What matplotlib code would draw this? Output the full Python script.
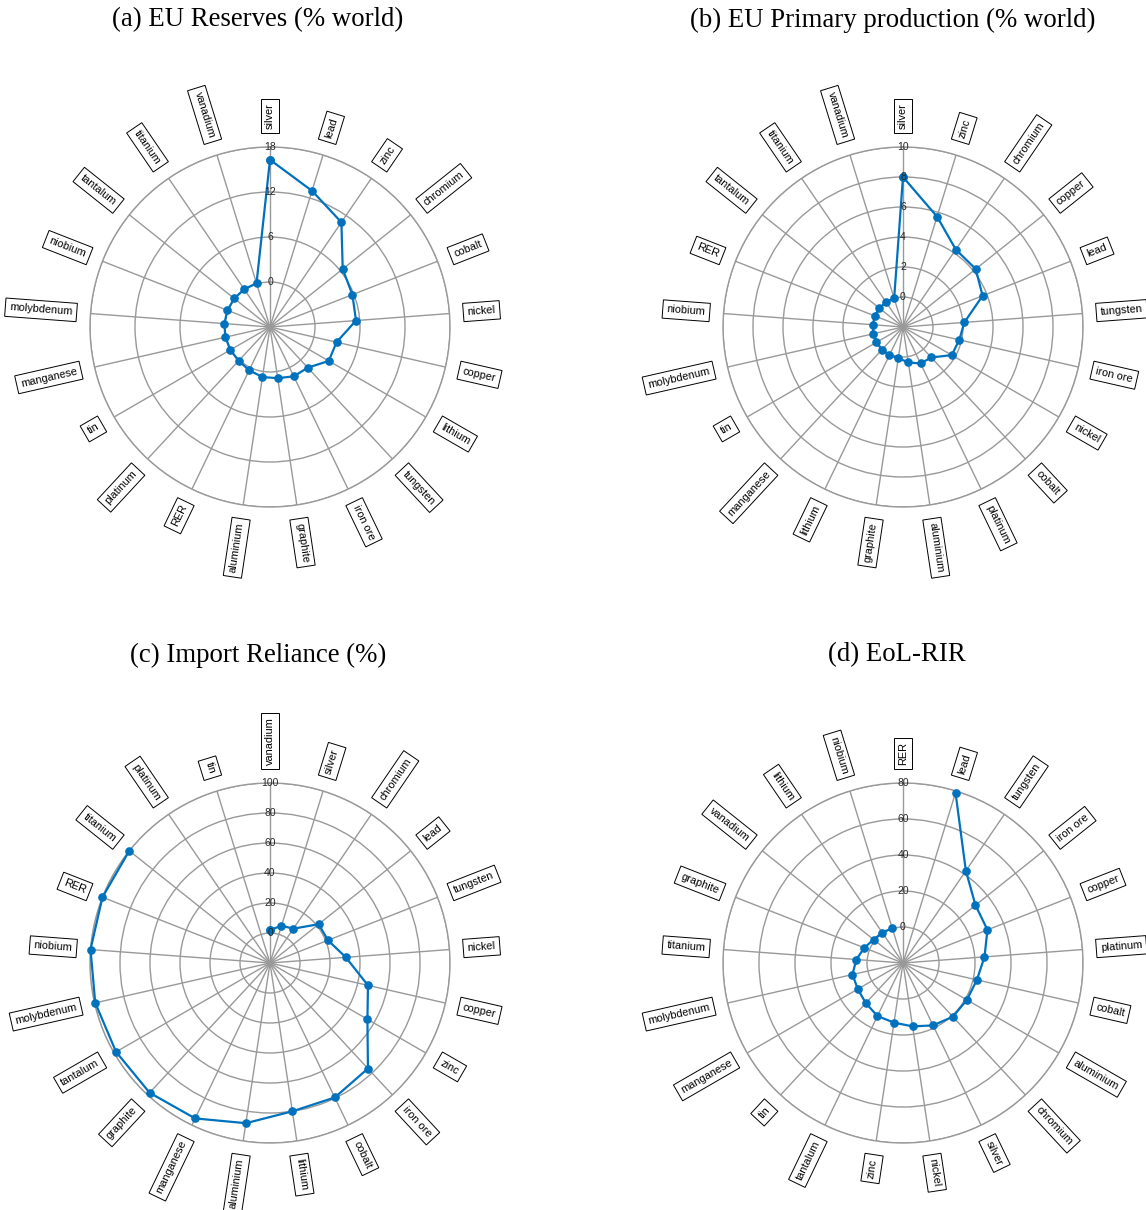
import numpy as np
import matplotlib
matplotlib.use("Agg")
import matplotlib.pyplot as plt

# ---- data -------------------------------------------------------------
names_a = ['silver', 'lead', 'zinc', 'chromium', 'cobalt', 'nickel', 'copper',
           'lithium', 'tungsten', 'iron ore', 'graphite', 'aluminium', 'RER',
           'platinum', 'tin', 'manganese', 'molybdenum', 'niobium', 'tantalum',
           'titanium', 'vanadium']
vals_a = [16.3, 13.0, 10.9, 6.4, 5.8, 5.5, 3.1, 3.05, 1.4, 1.3, 0.9, 0.75, 0.4,
          0.15, 0.12, 0.1, 0.1, 0.1, 0.1, 0.1, 0.1]

names_b = ['silver', 'zinc', 'chromium', 'copper', 'lead', 'tungsten', 'iron ore',
           'nickel', 'cobalt', 'platinum', 'aluminium', 'graphite', 'lithium',
           'manganese', 'tin', 'molybdenum', 'niobium', 'RER', 'tantalum',
           'titanium', 'vanadium']
vals_b = [8.0, 5.7, 4.25, 4.2, 3.7, 2.1, 1.85, 1.75, 0.77, 0.7, 0.39, 0.1, 0.08,
          0.06, 0.05, 0.03, 0.02, 0.02, 0.01, 0.01, 0.0]

names_c = ['vanadium', 'silver', 'chromium', 'lead', 'tungsten', 'nickel', 'copper',
           'zinc', 'iron ore', 'cobalt', 'lithium', 'aluminium', 'manganese',
           'graphite', 'tantalum', 'molybdenum', 'niobium', 'RER', 'titanium',
           'platinum', 'tin']
vals_c = [2.0, 6.0, 7.7, 21.5, 21.5, 30.7, 47.0, 55.0, 76.0, 79.5, 80.0, 88.0,
          95.0, 98.0, 98.5, 99.5, 100.0, 100.0, 100.0, np.nan, np.nan]

names_d = ['RER', 'lead', 'tungsten', 'iron ore', 'copper', 'platinum', 'cobalt',
           'aluminium', 'chromium', 'silver', 'nickel', 'zinc', 'tantalum', 'tin',
           'manganese', 'molybdenum', 'titanium', 'graphite', 'vanadium',
           'lithium', 'niobium']
vals_d = [np.nan, 79.0, 42.0, 31.5, 30.4, 25.4, 22.1, 21.0, 20.7, 18.5, 15.6,
          13.5, 12.7, 10.4, 9.0, 8.8, 6.0, 3.1, 0.9, 0.4, 0.3]

titles = ['(a) EU Reserves (% world)', '(b) EU Primary production (% world)',
          '(c) Import Reliance (%)', '(d) EoL-RIR']

# ---- styling ----------------------------------------------------------
W, H = 1146, 1210
GRID = '#999999'
LINE = '#0072BD'
SANS = ['Liberation Sans', 'DejaVu Sans']
SERIF = ['Liberation Serif', 'DejaVu Serif']

fig = plt.figure(figsize=(W / 100, H / 100), dpi=100)
fig.patch.set_facecolor('white')


def spider(cx, cy, names, values, rmin, rmax, step, R=180):
    ax = fig.add_axes([(cx - R) / W, 1 - (cy + R) / H, 2 * R / W, 2 * R / H],
                      projection='polar')
    ax.set_theta_offset(np.pi / 2)
    ax.set_theta_direction(-1)
    n = len(names)
    theta = np.arange(n) * 2 * np.pi / n
    ax.set_ylim(rmin, rmax)
    ticks = np.arange(0, rmax + step / 2, step)
    ax.set_yticks(ticks)
    ax.set_yticklabels([])
    ax.set_xticks(theta)
    ax.set_xticklabels([])
    ax.grid(True, color=GRID, lw=1.0)
    ax.spines['polar'].set_color(GRID)
    ax.spines['polar'].set_linewidth(1.0)
    ax.tick_params(length=0)

    v = np.asarray(values, dtype=float)
    ax.plot(np.append(theta, theta[0]), np.append(v, v[0]), color=LINE,
            lw=1.6, marker='o', ms=5.2, clip_on=False, zorder=3)

    for t in ticks:
        ax.text(0, t, f'{t:g}', ha='center', va='center', fontsize=7.5,
                color='#262626', family=SANS, zorder=5)

    r_lab = rmin + 1.1 * (rmax - rmin)
    for name, th in zip(names, theta):
        phi = 90.0 - np.degrees(th)
        phi = (phi + 180.0) % 360.0 - 180.0
        if np.cos(np.radians(phi)) >= -1e-9:
            rot, ha = phi, 'left'
        else:
            rot, ha = phi - 180.0, 'right'
        ax.text(th, r_lab, name, rotation=rot, rotation_mode='anchor',
                ha=ha, va='center', fontsize=7.9, family=SANS, color='black',
                bbox=dict(boxstyle='square,pad=0.38', fc='white', ec='black',
                          lw=0.7))
    return ax


spider(270, 327, names_a, vals_a, -6, 18, 6)
spider(903, 327, names_b, vals_b, -2, 10, 2)
spider(270, 963, names_c, vals_c, -20, 100, 20)
spider(903, 963, names_d, vals_d, -20, 80, 20)

title_pos = [(258, 20), (893, 20), (258, 655), (897, 655)]
for (tx, ty), txt in zip(title_pos, titles):
    fig.text(tx / W, 1 - ty / H, txt, ha='center', va='center',
             fontsize=19.3, family=SERIF)

fig.savefig('out.png', dpi=100, facecolor='white')
